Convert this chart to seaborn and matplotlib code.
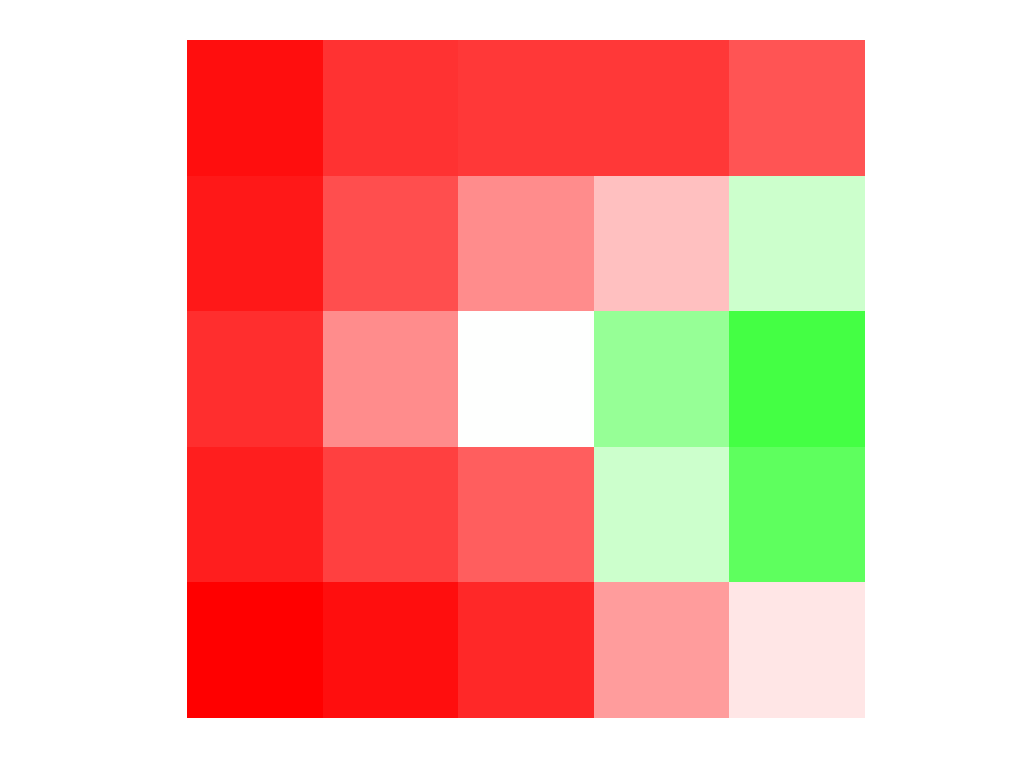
import numpy as np
import pandas as pd
import matplotlib
matplotlib.use("Agg")
import matplotlib.pyplot as plt
import seaborn as sns
from matplotlib.colors import LinearSegmentedColormap

# values, -1 = full red, 0 = white, +1 = full green
row0 = [-0.94, -0.80, -0.78, -0.78, -0.67]
row1 = [-0.90, -0.69, -0.45, -0.25, 0.20]
row2 = [-0.82, -0.45, 0.00, 0.41, 0.73]
row3 = [-0.88, -0.75, -0.63, 0.20, 0.63]
row4 = [-1.00, -0.94, -0.84, -0.39, -0.10]

df = pd.DataFrame([row0, row1, row2, row3, row4])

cmap = LinearSegmentedColormap.from_list('rwg', ['#ff0000', '#ffffff', '#00ff00'])

fig = plt.figure(figsize=(10.24, 7.68), dpi=100)
ax = fig.add_axes([187/1024, 50/768, 678/1024, 678/768])
sns.heatmap(df, cmap=cmap, vmin=-1, vmax=1, cbar=False,
            xticklabels=False, yticklabels=False, ax=ax)
ax.set_xlabel('')
ax.set_ylabel('')
fig.savefig('out.png', dpi=100)
